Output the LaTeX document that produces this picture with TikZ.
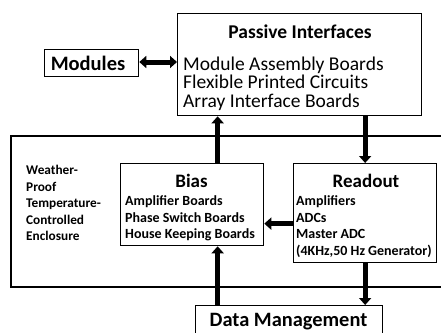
\documentclass[tikz,border=0pt]{standalone}
\usepackage{fontspec}
\setmainfont{Carlito}
\usetikzlibrary{arrows.meta}
\tikzset{
  box/.style={draw=black, line width=1.3pt, inner sep=0pt, anchor=north west},
  lbl/.style={inner sep=0pt, anchor=west},
  ttl/.style={inner sep=0pt},
  sml/.style={font=\fontsize{14}{16.5}\selectfont\bfseries},
  hd/.style={font=\fontsize{19}{20}\selectfont\bfseries},
  fat/.style={line width=5pt, -{Triangle[width=12pt,length=7pt]}},
  fatboth/.style={line width=5pt, {Triangle[width=12pt,length=7pt]}-{Triangle[width=12pt,length=7pt]}},
}
\begin{document}
\begin{tikzpicture}[x=1pt,y=1pt]
\useasboundingbox (0,0) rectangle (441,-332);
% enclosure
\draw[line width=1.2pt] (445,-136) -- (11,-136) -- (11,-287) -- (445,-287);
% boxes
\node[box, minimum width=244pt, minimum height=102pt] (pi) at (177,-13) {};
\node[box, minimum width=94pt, minimum height=27pt] (mod) at (44,-49) {};
\node[box, minimum width=143pt, minimum height=82pt] (bias) at (120,-163) {};
\node[box, minimum width=143pt, minimum height=99pt] (ro) at (293,-163) {};
\node[box, minimum width=187pt, minimum height=50pt] (dm) at (195,-305) {};
% texts
\node[ttl, font=\fontsize{19.5}{19}\selectfont\bfseries] (pit) at (300,-32) {Passive Interfaces};
\node[lbl, font=\fontsize{19.5}{18.5}\selectfont, align=left] (pil) at (183,-83.5) {Module Assembly Boards\\Flexible Printed Circuits\\Array Interface Boards};
\node[ttl, font=\fontsize{20.5}{20}\selectfont\bfseries] (modt) at (88,-63) {Modules};
\node[lbl, font=\fontsize{13.3}{16.5}\selectfont\bfseries, align=left] (wt) at (26,-203) {Weather-\\Proof\\Temperature-\\Controlled\\Enclosure};
\node[ttl, hd] (biast) at (191.5,-181) {Bias};
\node[lbl, sml, align=left] (bl) at (125,-218.5) {Amplifier Boards\\Phase Switch Boards\\House Keeping Boards};
\node[ttl, hd] (rot) at (366,-181) {Readout};
\node[lbl, sml, align=left] (rl) at (296,-226.75) {Amplifiers\\ADCs\\Master ADC\\(4KHz,50 Hz Generator)};
\node[ttl, font=\fontsize{20.4}{20}\selectfont\bfseries] (dmt) at (288.5,-322) {Data Management};
% arrows
\draw[fatboth] (mod.east |- 0,-62) -- (pi.west |- 0,-62);
\draw[fat] ([xshift=25.5pt]bias.north) -- ([xshift=25.5pt]bias.north |- pi.south);
\draw[fat] (ro.north |- pi.south) -- (ro.north);
\draw[fat] ([yshift=-10.5pt]ro.west) -- ([yshift=-10.5pt]ro.west -| bias.east);
\draw[fat] ([xshift=25.5pt]bias.south |- dm.north) -- ([xshift=25.5pt]bias.south);
\draw[fat] (ro.south) -- (ro.south |- dm.north);
\end{tikzpicture}
\end{document}
